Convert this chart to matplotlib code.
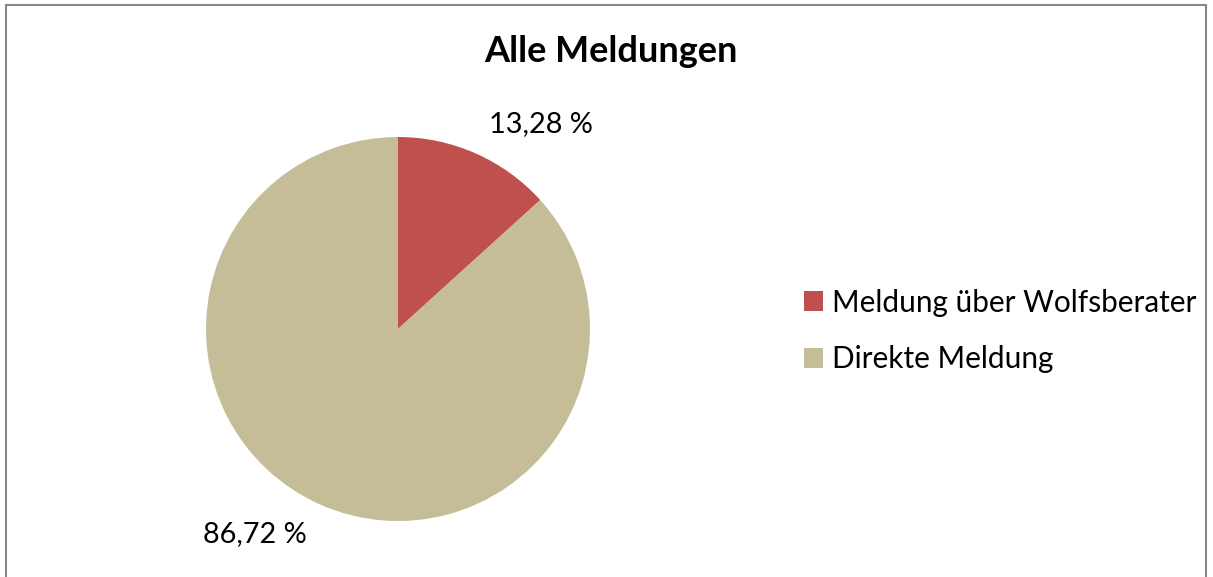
import numpy as np
import matplotlib
matplotlib.use("Agg")
import matplotlib.pyplot as plt
from matplotlib.patches import Rectangle

plt.rcParams["font.family"] = ["Lato", "DejaVu Sans"]

# data
categories = ["Meldung über Wolfsberater", "Direkte Meldung"]
shares = [13.28, 86.72]
colors = ["#C0504D", "#C4BD97"]
title = "Alle Meldungen"

W, H = 1213, 577
fig = plt.figure(figsize=(W / 100, H / 100), dpi=100)

# chart border
fig.patches.append(Rectangle((6 / W, -0.01), 1200 / W, 1 - 5 / H + 0.01,
                             transform=fig.transFigure, fill=False,
                             edgecolor="#888888", linewidth=1.5))

# pie centred at (398, 329) px, radius 192 px
cx, cy, r = 398, 329, 192
ax = fig.add_axes([(cx - r) / W, (H - cy - r) / H, 2 * r / W, 2 * r / H])
wedges, _ = ax.pie(shares, colors=colors, startangle=90, counterclock=False,
                   radius=1.0, wedgeprops=dict(linewidth=0))
ax.set_xlim(-1, 1)
ax.set_ylim(-1, 1)
ax.set_aspect("equal")
ax.axis("off")

# data labels (Excel "best fit" sits a little clockwise of the mid-angle)
for w, v in zip(wedges, shares):
    mid = np.deg2rad((w.theta1 + w.theta2) / 2 - 11)
    ax.text(1.3 * np.cos(mid), 1.3 * np.sin(mid),
            f"{v:.2f} %".replace(".", ","),
            ha="center", va="center", fontsize=20.8, color="black")

fig.text(611 / W, 1 - 52 / H, title, ha="center", va="center",
         fontsize=26, fontweight="bold")

leg = fig.legend(wedges, categories, loc="upper left",
                 bbox_to_anchor=(777 / W, 1 - 262 / H), frameon=False,
                 fontsize=21.4, handlelength=0.65, handleheight=0.65,
                 handletextpad=0.3, labelspacing=0.96)

fig.savefig("out.png", dpi=100)
